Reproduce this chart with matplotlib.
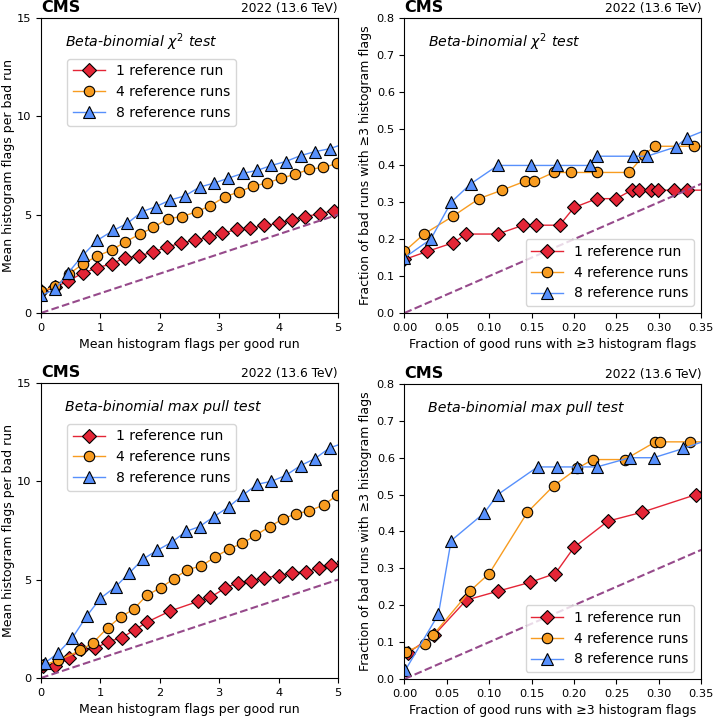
import matplotlib.pyplot as plt

# colores (paleta CMS)
rojo = '#e42536'
naranja = '#f89c20'
azul = '#5790fc'
morado = '#964a8b'

etiquetas = ['1 reference run', '4 reference runs', '8 reference runs']

# --- chi2, flags medios ---
chi_mean_x1 = [0.0, 0.24, 0.46, 0.71, 0.95, 1.19, 1.41, 1.65, 1.89, 2.12, 2.35, 2.6, 2.83, 3.05, 3.3, 3.52, 3.76, 4.0, 4.22, 4.45, 4.7, 4.93]
chi_mean_y1 = [1.1, 1.3, 1.64, 2.03, 2.3, 2.5, 2.8, 2.9, 3.1, 3.35, 3.55, 3.7, 3.85, 4.05, 4.25, 4.3, 4.45, 4.55, 4.75, 4.9, 5.05, 5.2]
chi_mean_x4 = [0.0, 0.24, 0.48, 0.71, 0.95, 1.19, 1.41, 1.66, 1.89, 2.14, 2.38, 2.62, 2.85, 3.09, 3.33, 3.57, 3.8, 4.04, 4.28, 4.51, 4.75, 4.99]
chi_mean_y4 = [1.1, 1.35, 2.0, 2.5, 2.9, 3.2, 3.6, 4.0, 4.35, 4.8, 4.9, 5.15, 5.45, 5.9, 6.15, 6.45, 6.6, 6.85, 7.05, 7.3, 7.4, 7.6]
chi_mean_x8 = [0.0, 0.24, 0.46, 0.71, 0.95, 1.22, 1.45, 1.7, 1.93, 2.18, 2.42, 2.67, 2.91, 3.15, 3.4, 3.64, 3.88, 4.12, 4.37, 4.61, 4.86, 5.1]
chi_mean_y8 = [0.9, 1.2, 2.05, 2.95, 3.7, 4.2, 4.55, 5.15, 5.4, 5.75, 5.95, 6.4, 6.6, 6.85, 7.1, 7.25, 7.5, 7.7, 8.0, 8.2, 8.35, 8.6]

# --- chi2, fraccion ---
chi_frac_x1 = [0.0, 0.027, 0.057, 0.073, 0.11, 0.14, 0.155, 0.183, 0.2, 0.227, 0.25, 0.268, 0.277, 0.291, 0.299, 0.318, 0.333, 0.36]
chi_frac_y1 = [0.145, 0.167, 0.19, 0.214, 0.214, 0.238, 0.238, 0.238, 0.286, 0.31, 0.31, 0.333, 0.333, 0.333, 0.333, 0.333, 0.333, 0.333]
chi_frac_x4 = [0.0, 0.023, 0.057, 0.088, 0.115, 0.142, 0.153, 0.176, 0.196, 0.227, 0.265, 0.283, 0.295, 0.341, 0.36]
chi_frac_y4 = [0.167, 0.214, 0.262, 0.31, 0.333, 0.357, 0.357, 0.381, 0.381, 0.381, 0.381, 0.429, 0.452, 0.452, 0.452]
chi_frac_x8 = [0.0, 0.031, 0.055, 0.078, 0.11, 0.149, 0.18, 0.219, 0.227, 0.27, 0.286, 0.32, 0.333, 0.36]
chi_frac_y8 = [0.15, 0.2, 0.3, 0.35, 0.4, 0.4, 0.4, 0.4, 0.425, 0.425, 0.425, 0.45, 0.475, 0.5]

# --- max pull, flags medios ---
pull_mean_x1 = [0.04, 0.24, 0.47, 0.68, 0.91, 1.13, 1.36, 1.58, 1.79, 2.17, 2.65, 2.85, 3.09, 3.31, 3.54, 3.76, 4.01, 4.23, 4.46, 4.68, 4.89, 5.1]
pull_mean_y1 = [0.63, 0.6, 1.0, 1.45, 1.5, 1.85, 2.05, 2.45, 2.85, 3.4, 3.9, 4.1, 4.55, 4.85, 4.95, 5.1, 5.2, 5.35, 5.4, 5.6, 5.75, 5.95]
pull_mean_x4 = [0.04, 0.29, 0.66, 0.88, 1.12, 1.34, 1.56, 1.78, 2.02, 2.24, 2.46, 2.7, 2.93, 3.16, 3.39, 3.61, 3.85, 4.08, 4.3, 4.52, 4.76, 4.99]
pull_mean_y4 = [0.65, 0.9, 1.4, 1.8, 2.55, 3.1, 3.5, 4.2, 4.6, 5.05, 5.5, 5.7, 6.15, 6.55, 6.85, 7.25, 7.7, 8.1, 8.35, 8.5, 8.8, 9.3]
pull_mean_x8 = [0.06, 0.28, 0.53, 0.77, 1.0, 1.26, 1.49, 1.72, 1.96, 2.2, 2.44, 2.67, 2.91, 3.16, 3.4, 3.64, 3.88, 4.12, 4.37, 4.61, 4.86, 5.1]
pull_mean_y8 = [0.75, 1.25, 2.05, 3.15, 4.05, 4.65, 5.35, 6.05, 6.5, 6.9, 7.45, 7.7, 8.2, 8.7, 9.3, 9.85, 10.0, 10.3, 10.8, 11.15, 11.7, 11.95]

# --- max pull, fraccion ---
pull_frac_x1 = [0.004, 0.035, 0.073, 0.11, 0.148, 0.178, 0.2, 0.24, 0.28, 0.344, 0.36]
pull_frac_y1 = [0.071, 0.119, 0.214, 0.238, 0.262, 0.286, 0.357, 0.428, 0.452, 0.5, 0.525]
pull_frac_x4 = [0.002, 0.024, 0.034, 0.077, 0.1, 0.145, 0.176, 0.204, 0.222, 0.26, 0.296, 0.302, 0.337, 0.36]
pull_frac_y4 = [0.074, 0.096, 0.12, 0.238, 0.286, 0.452, 0.524, 0.571, 0.595, 0.595, 0.643, 0.643, 0.643, 0.643]
pull_frac_x8 = [0.001, 0.04, 0.055, 0.094, 0.11, 0.157, 0.18, 0.204, 0.227, 0.266, 0.294, 0.329, 0.36]
pull_frac_y8 = [0.024, 0.175, 0.375, 0.45, 0.5, 0.575, 0.575, 0.575, 0.575, 0.6, 0.6, 0.625, 0.65]

paneles = [
    ((chi_mean_x1, chi_mean_y1), (chi_mean_x4, chi_mean_y4), (chi_mean_x8, chi_mean_y8)),
    ((chi_frac_x1, chi_frac_y1), (chi_frac_x4, chi_frac_y4), (chi_frac_x8, chi_frac_y8)),
    ((pull_mean_x1, pull_mean_y1), (pull_mean_x4, pull_mean_y4), (pull_mean_x8, pull_mean_y8)),
    ((pull_frac_x1, pull_frac_y1), (pull_frac_x4, pull_frac_y4), (pull_frac_x8, pull_frac_y8)),
]
titulos = [r'Beta-binomial $\chi^2$ test', r'Beta-binomial $\chi^2$ test',
           'Beta-binomial max pull test', 'Beta-binomial max pull test']

fig = plt.figure(figsize=(7.14, 7.17), dpi=100)
posiciones = [
    [0.0574, 0.5635, 0.416, 0.4115],
    [0.5665, 0.5635, 0.4155, 0.4115],
    [0.0574, 0.0544, 0.416, 0.4115],
    [0.5665, 0.0530, 0.4155, 0.4115],
]

estilos = [(rojo, 'D', 7), (naranja, 'o', 7.5), (azul, '^', 8)]

for i in range(4):
    ax = fig.add_axes(posiciones[i])
    fraccion = i in (1, 3)
    for (xs, ys), (c, m, ms), lab in zip(paneles[i], estilos, etiquetas):
        ax.plot(xs, ys, color=c, marker=m, markersize=ms, lw=1,
                markerfacecolor=c, markeredgecolor='black', markeredgewidth=0.8,
                label=lab)
    # recta y = x
    if fraccion:
        ax.plot([0, 0.35], [0, 0.35], ls='--', color=morado, lw=1.5)
        ax.set_xlim(0, 0.35)
        ax.set_ylim(0, 0.8)
        ax.set_xticks([0, 0.05, 0.1, 0.15, 0.2, 0.25, 0.3, 0.35])
        ax.set_xticklabels(['0.00', '0.05', '0.10', '0.15', '0.20', '0.25', '0.30', '0.35'])
        ax.set_yticks([0, 0.1, 0.2, 0.3, 0.4, 0.5, 0.6, 0.7, 0.8])
        ax.set_xlabel('Fraction of good runs with \u22653 histogram flags', fontsize=9)
        ax.set_ylabel('Fraction of bad runs with \u22653 histogram flags', fontsize=9,
                      labelpad=3)
        ax.legend(loc='lower right', fontsize=10, handlelength=2.3)
    else:
        ax.plot([0, 5], [0, 5], ls='--', color=morado, lw=1.5)
        ax.set_xlim(0, 5)
        ax.set_ylim(0, 15)
        ax.set_xticks([0, 1, 2, 3, 4, 5])
        ax.set_yticks([0, 5, 10, 15])
        ax.set_xlabel('Mean histogram flags per good run', fontsize=9)
        ax.set_ylabel('Mean histogram flags per bad run', fontsize=9, labelpad=1)
        ax.legend(loc='upper left', bbox_to_anchor=(0.065, 0.885), fontsize=10,
                  handlelength=2.3)
    ax.tick_params(labelsize=8.2)
    ax.text(0.08, 0.918, titulos[i], transform=ax.transAxes, fontsize=10.2,
            style='italic', va='center')
    ax.text(0.0, 1.01, 'CMS', transform=ax.transAxes, fontsize=11.5,
            fontweight='bold', va='bottom')
    ax.text(1.0, 1.01, '2022 (13.6 TeV)', transform=ax.transAxes, fontsize=8.8,
            ha='right', va='bottom')

fig.savefig('out.png', dpi=100)
